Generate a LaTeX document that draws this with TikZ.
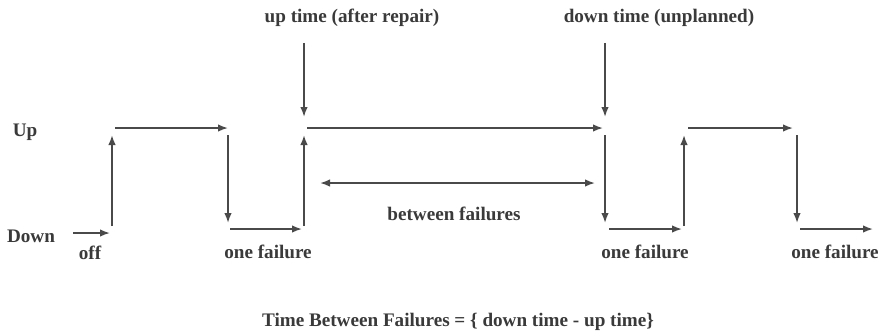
\documentclass[tikz,border=0pt]{standalone}
\usepackage{fontspec}
\setmainfont{Liberation Serif}
\usetikzlibrary{arrows.meta,calc}
\definecolor{linegray}{HTML}{4A4A4A}
\definecolor{textgray}{HTML}{3A3A3A}

\begin{document}
\begin{tikzpicture}[x=0.02cm,y=-0.02cm,
		sig/.style={line width=0.9pt, color=linegray, -{Latex[length=2mm,width=1.5mm]}},
		both/.style={line width=0.9pt, color=linegray, {Latex[length=2mm,width=1.5mm]}-{Latex[length=2mm,width=1.5mm]}},
		lbl/.style={text=textgray, font=\bfseries\fontsize{10.9}{13}\selectfont, inner sep=1pt}]
		%%%%% START %%%%%
		\useasboundingbox[fill=white] (0,0) rectangle (883,335);
		
		\node[lbl] (up) at (25,132) {Up};
		\node[lbl] (down) at (31,236) {Down};
		\node[lbl] (off) at (90,253) {off};
		\node[lbl] (fail1) at (268,252) {one failure};
		\node[lbl] (fail2) at (645,252) {one failure};
		\node[lbl] (fail3) at (835,252) {one failure};
		\node[lbl] (uptime) at (352,18) {up time (after repair)};
		\node[lbl] (downtime) at (659,18) {down time (unplanned)};
		\node[lbl] (between) at (454,214) {between failures};
		\node[lbl] (tbf) at (458,322) {Time Between Failures = \{ down time - up time\}};
		
		\coordinate (repair) at (304,117);
		\coordinate (outage) at (605,117);
		
		% waveform
		\draw[sig] (73,233) -- (110,233);
		\draw[sig] (112,226) -- (112,135);
		\draw[sig] (115,128) -- (228,128);
		\draw[sig] (228,135) -- (228,223);
		\draw[sig] (230,229) -- (302,229);
		\draw[sig] (304,226) -- (304,135);
		\draw[sig] (307,128) -- (603,128);
		\draw[sig] (605,135) -- (605,223);
		\draw[sig] (609,229) -- (682,229);
		\draw[sig] (684,226) -- (684,135);
		\draw[sig] (688,128) -- (793,128);
		\draw[sig] (797,135) -- (797,223);
		\draw[sig] (800,229) -- (873,229);
		
		% pointers
		\draw[sig] ($(uptime.south -| repair)+(0,14)$) -- (repair);
		\draw[sig] ($(downtime.south -| outage)+(0,14)$) -- (outage);
		\draw[both] (320,183) -- (595,183);
		
		%%%%% END %%%%%
\end{tikzpicture}
\end{document}
